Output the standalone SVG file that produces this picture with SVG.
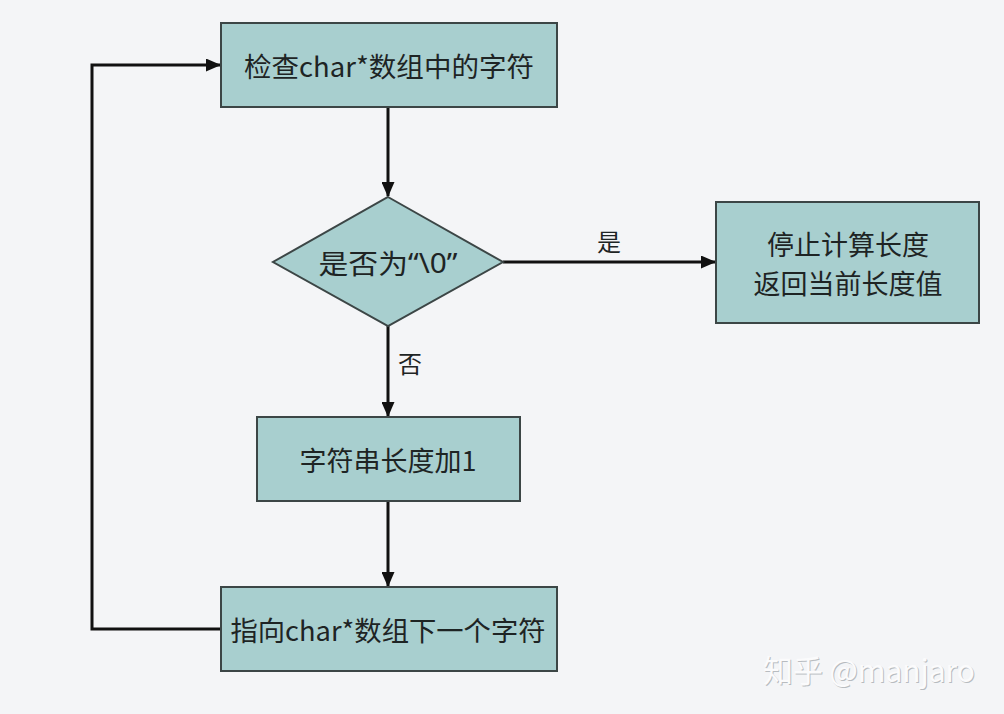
<svg xmlns="http://www.w3.org/2000/svg" width="1004" height="714" viewBox="0 0 1004 714">
<style>
.node{fill:#a8cfcf;stroke:#3c4646;stroke-width:2}
.t{font-family:"Noto Sans CJK SC","Noto Sans",sans-serif;font-size:27px;fill:#1e2424;text-anchor:middle;dominant-baseline:central}
.lat{font-family:"Noto Sans",sans-serif}
.lbl{font-family:"Noto Sans CJK SC","Noto Sans",sans-serif;font-size:24px;fill:#1e2424;text-anchor:middle;dominant-baseline:central}
.c{fill:none;stroke:#111;stroke-width:3}
.wm{font-family:"Noto Sans CJK SC","Noto Sans",sans-serif;font-size:31px;dominant-baseline:central}
</style>
<defs>
<marker id="ah" viewBox="0 0 15 13" refX="14" refY="6.5" markerWidth="15" markerHeight="13" markerUnits="userSpaceOnUse" orient="auto">
<path d="M0,0 L15,6.5 L0,13 Z" fill="#111"/>
</marker>
</defs>
<rect width="1004" height="714" fill="#f4f5f7"/>
<g id="connectors">
<line class="c" x1="388" y1="107" x2="388" y2="196" marker-end="url(#ah)"/>
<line class="c" x1="503" y1="262" x2="715" y2="262" marker-end="url(#ah)"/>
<line class="c" x1="388" y1="326" x2="388" y2="416" marker-end="url(#ah)"/>
<line class="c" x1="388" y1="501" x2="388" y2="586" marker-end="url(#ah)"/>
<polyline class="c" points="221,629 92,629 92,65 220,65" marker-end="url(#ah)"/>
<text class="lbl" x="609" y="240">是</text>
<text class="lbl" x="410" y="362">否</text>
</g>
<g id="n1">
<rect class="node" x="221" y="23" width="336" height="84"/>
<text class="t" x="389" y="65" textLength="290" lengthAdjust="spacingAndGlyphs">检查char*数组中的字符</text>
</g>
<g id="n2">
<polygon class="node" points="388,197 503,262 388,326 273,262"/>
<text class="t" x="388" y="262" textLength="139" lengthAdjust="spacingAndGlyphs">是否为<tspan class="lat">“\0”</tspan></text>
</g>
<g id="n3">
<rect class="node" x="716" y="202" width="263" height="121"/>
<text class="t" x="848" y="243">停止计算长度</text>
<text class="t" x="848" y="282">返回当前长度值</text>
</g>
<g id="n4">
<rect class="node" x="257" y="417" width="263" height="84"/>
<text class="t" x="388" y="459">字符串长度加1</text>
</g>
<g id="n5">
<rect class="node" x="221" y="587" width="336" height="84"/>
<text class="t" x="388" y="629" textLength="315" lengthAdjust="spacingAndGlyphs">指向char*数组下一个字符</text>
</g>
<g id="watermark">
<text class="wm" x="764" y="669" fill="#b8bcc0" textLength="212" lengthAdjust="spacingAndGlyphs">知乎 @manjaro</text>
<text class="wm" x="763" y="668" fill="#fbfbfc" textLength="212" lengthAdjust="spacingAndGlyphs">知乎 @manjaro</text>
</g>
</svg>
